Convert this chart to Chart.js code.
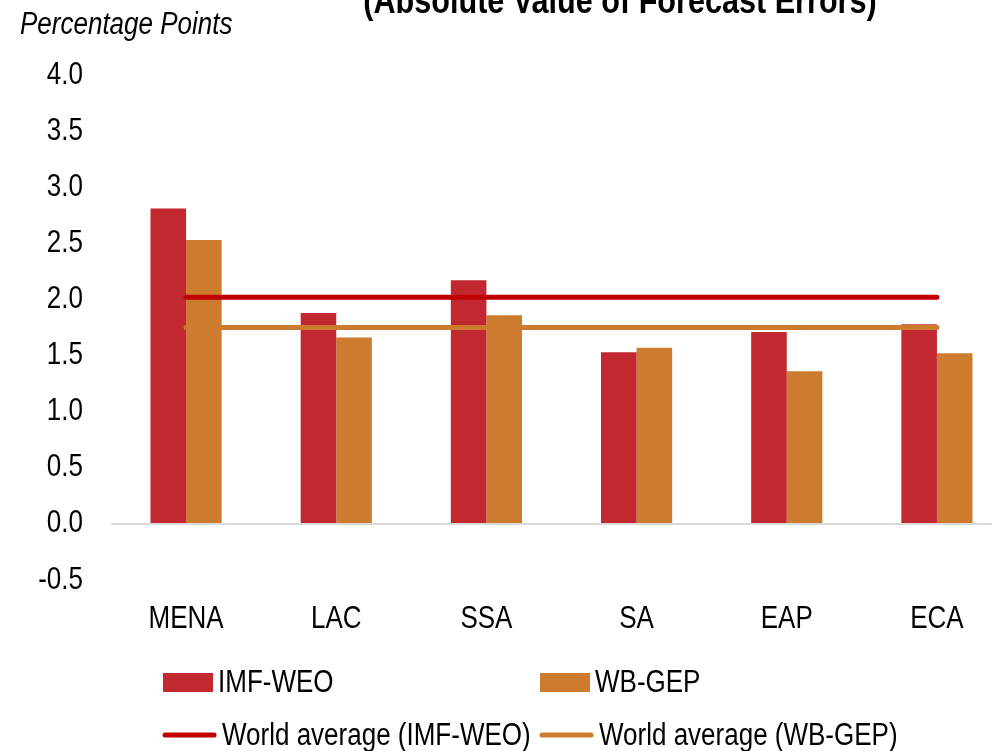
<!DOCTYPE html>
<html>
<head>
<meta charset="utf-8">
<script src="https://cdn.jsdelivr.net/npm/chart.js@4.4.1/dist/chart.umd.min.js"></script>
<style>
  html, body { margin: 0; padding: 0; background: #fff; overflow: hidden; }
  #wrap { position: absolute; left: 0; top: 0; width: 1040px; height: 751px; }
</style>
</head>
<body>
<div id="wrap"><canvas id="c" width="1040" height="751"></canvas></div>
<script>
const categories = ['MENA', 'LAC', 'SSA', 'SA', 'EAP', 'ECA'];
const imfWeo = [2.81, 1.88, 2.17, 1.53, 1.71, 1.78];
const wbGep  = [2.53, 1.66, 1.86, 1.57, 1.36, 1.52];
const worldAvgImf = [2.02, 2.02, 2.02, 2.02, 2.02, 2.02];
const worldAvgWb  = [1.75, 1.75, 1.75, 1.75, 1.75, 1.75];
const titleText = '(Absolute Value of Forecast Errors)';
const yUnitText = 'Percentage Points';

const FONT = '"Liberation Sans", Arial, sans-serif';
const FS = 26;
const STRETCH_Y = 1.2;

// Condensed-looking text: stretch glyphs vertically around their anchor point.
const canvas = document.getElementById('c');
const ctx0 = canvas.getContext('2d');
const origFillText = ctx0.fillText.bind(ctx0);
ctx0.fillText = function (text, x, y, maxWidth) {
  ctx0.save();
  ctx0.translate(x, y);
  ctx0.scale(1, STRETCH_Y);
  if (maxWidth !== undefined) origFillText(text, 0, 0, maxWidth);
  else origFillText(text, 0, 0);
  ctx0.restore();
};

const overlayText = {
  id: 'overlayText',
  afterDraw(chart) {
    const ctx = chart.ctx;
    ctx.save();
    ctx.fillStyle = '#000';
    ctx.textBaseline = 'alphabetic';
    ctx.textAlign = 'center';
    ctx.font = 'bold 30.6px ' + FONT;
    ctx.fillText(titleText, 620, 13);
    ctx.textAlign = 'left';
    ctx.font = 'italic ' + FS + 'px ' + FONT;
    ctx.fillText(yUnitText, 20, 34);
    ctx.restore();
  }
};

const gridLegend = {
  id: 'gridLegend',
  afterDraw(chart) {
    const ctx = chart.ctx;
    const cols = [163, 540];
    const rows = [682, 735];
    ctx.save();
    ctx.font = FS + 'px ' + FONT;
    ctx.textBaseline = 'middle';
    ctx.textAlign = 'left';
    chart.data.datasets.forEach((ds, i) => {
      const x = cols[i % 2];
      const y = rows[Math.floor(i / 2)];
      let tx;
      if (ds.type === 'line') {
        ctx.strokeStyle = ds.borderColor;
        ctx.lineWidth = 5;
        ctx.lineCap = 'round';
        ctx.beginPath();
        ctx.moveTo(x + 2, y);
        ctx.lineTo(x + 51, y);
        ctx.stroke();
        tx = x + 59;
      } else {
        ctx.fillStyle = ds.backgroundColor;
        ctx.fillRect(x, y - 9, 50, 19);
        tx = x + 55;
      }
      ctx.fillStyle = '#000';
      ctx.fillText(ds.label, tx, y + 1);
    });
    ctx.restore();
  }
};

new Chart(canvas, {
  type: 'bar',
  data: {
    labels: categories,
    datasets: [
      { type: 'bar', label: 'IMF-WEO', data: imfWeo, backgroundColor: '#C1282F', order: 2 },
      { type: 'bar', label: 'WB-GEP', data: wbGep, backgroundColor: '#CD7B2E', order: 2 },
      { type: 'line', label: 'World average (IMF-WEO)', data: worldAvgImf, borderColor: '#C00000',
        backgroundColor: '#C00000', borderWidth: 5, borderCapStyle: 'round', pointRadius: 0, fill: false, order: 1 },
      { type: 'line', label: 'World average (WB-GEP)', data: worldAvgWb, borderColor: '#CD7B2E',
        backgroundColor: '#CD7B2E', borderWidth: 5, borderCapStyle: 'round', pointRadius: 0, fill: false, order: 1 }
    ]
  },
  options: {
    responsive: false,
    animation: false,
    layout: { padding: { top: 75, right: 28, left: 0, bottom: 0 } },
    datasets: { bar: { categoryPercentage: 0.474, barPercentage: 1.0 } },
    plugins: { legend: { display: false }, title: { display: false }, tooltip: { enabled: false } },
    scales: {
      x: {
        grid: { display: false, drawTicks: false },
        border: { display: false },
        ticks: { color: '#000', font: { family: FONT, size: FS }, padding: 24, maxRotation: 0 },
        afterFit(scale) { scale.height = 171; }
      },
      y: {
        min: -0.5, max: 4.0,
        border: { display: false },
        grid: {
          drawTicks: false,
          color: (c) => (c.tick && c.tick.value === 0 ? '#D9D9D9' : 'rgba(0,0,0,0)'),
          lineWidth: 2
        },
        ticks: {
          stepSize: 0.5, color: '#000', padding: 28,
          font: { family: FONT, size: FS },
          callback: (v) => Number(v).toFixed(1)
        },
        afterFit(scale) { scale.width = 111; }
      }
    }
  },
  plugins: [overlayText, gridLegend]
});
</script>
</body>
</html>
